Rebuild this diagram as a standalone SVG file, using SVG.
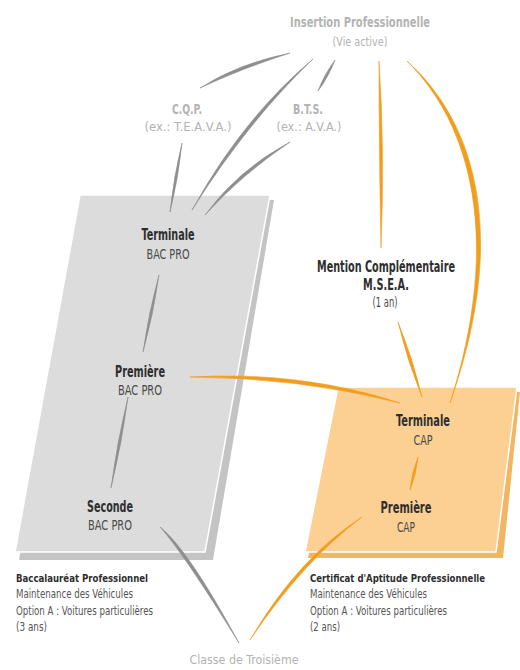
<svg xmlns="http://www.w3.org/2000/svg" width="520" height="670" viewBox="0 0 520 670">
<style>
text{font-family:"DejaVu Sans Condensed","Liberation Sans",sans-serif;}
.top{fill:#b3b3b3;font-size:14px;font-weight:bold;text-anchor:middle;}
.topn{fill:#b3b3b3;font-size:13px;text-anchor:middle;}
.h{fill:#2e2e2e;font-size:15px;font-weight:bold;text-anchor:middle;}
.s{fill:#4a4a4a;font-size:14px;text-anchor:middle;}
.bh{fill:#2e2e2e;font-size:11.2px;font-weight:bold;}
.bs{fill:#555;font-size:13px;}
.g{fill:#8e8e8e;stroke:#8e8e8e;stroke-width:0.6;stroke-linejoin:round;}
.o{fill:#f19d1e;stroke:#f19d1e;stroke-width:0.6;stroke-linejoin:round;}
</style>
<rect width="520" height="670" fill="#ffffff"/>

<g id="panel-bac">
<polygon points="83,200 274,200 213,560 19,560" fill="#c4c4c4"/>
<polygon points="80,195 270,195 205,552 15,552" fill="#dcdcdc" stroke="#ffffff" stroke-width="1.5"/>
</g>
<g id="panel-cap">
<polygon points="341,392 520,392 503,558 308,558" fill="#f2b561"/>
<polygon points="338,387 517,387 496,552 305,552" fill="#fbd092" stroke="#ffffff" stroke-width="1.5"/>
</g>

<g id="connectors">
<path class="g" d="M200,88 Q241.1,68.8 290,53 Q238.9,63.2 200,88Z"/>
<path class="g" d="M313,59 Q242.7,118.1 192,210 Q247.3,121.9 313,59Z"/>
<path class="g" d="M318,91 Q328.7,76.7 335,60 Q324.3,74.3 318,91Z"/>
<path class="g" d="M182,143 Q173.5,177.1 170,212 Q178.5,177.9 182,143Z"/>
<path class="g" d="M290,142 Q238,169.7 205,215 Q242,174.3 290,142Z"/>
<path class="g" d="M159,275 Q148.5,313 143,352 Q153.5,314 159,275Z"/>
<path class="g" d="M128,397 Q117,442 111,488 Q122,443 128,397Z"/>
<path class="g" d="M160,527 Q182.5,551.7 239,643 Q187.5,548.3 160,527Z"/>
<path class="o" d="M379,61 Q379,150 381,248 Q385,150 379,61Z"/>
<path class="o" d="M407,61 C472,125.5 502,240.5 450,403 C508,239.5 478,124.5 407,61Z"/>
<path class="o" d="M398,322 Q407.1,360.4 422,397 Q412.9,358.6 398,322Z"/>
<path class="o" d="M190,377 Q299.6,377.5 400,403 Q300.4,370.5 190,377Z"/>
<path class="o" d="M418,457 Q411.6,472.9 410,490 Q416.4,474.1 418,457Z"/>
<path class="o" d="M362,517 Q297.8,558 250,640 Q302.2,562 362,517Z"/>
</g>

<g id="insertion">
<text class="top" x="360" y="27" font-size="15" textLength="140" lengthAdjust="spacingAndGlyphs">Insertion Professionnelle</text>
<text class="topn" x="360" y="46" textLength="55" lengthAdjust="spacingAndGlyphs">(Vie active)</text>
</g>
<g id="cqp">
<text class="top" x="187" y="114" textLength="30" lengthAdjust="spacingAndGlyphs">C.Q.P.</text>
<text class="topn" x="188" y="131" textLength="87" lengthAdjust="spacingAndGlyphs">(ex.: T.E.A.V.A.)</text>
</g>
<g id="bts">
<text class="top" x="308" y="114" textLength="30" lengthAdjust="spacingAndGlyphs">B.T.S.</text>
<text class="topn" x="309" y="131" textLength="65" lengthAdjust="spacingAndGlyphs">(ex.: A.V.A.)</text>
</g>
<g id="terminale-bac">
<text class="h" x="168" y="240" textLength="53" lengthAdjust="spacingAndGlyphs">Terminale</text>
<text class="s" x="168" y="259" textLength="43" lengthAdjust="spacingAndGlyphs">BAC PRO</text>
</g>
<g id="premiere-bac">
<text class="h" x="140" y="377" textLength="50" lengthAdjust="spacingAndGlyphs">Première</text>
<text class="s" x="140" y="395" textLength="44" lengthAdjust="spacingAndGlyphs">BAC PRO</text>
</g>
<g id="seconde-bac">
<text class="h" x="110" y="512" textLength="46" lengthAdjust="spacingAndGlyphs">Seconde</text>
<text class="s" x="110" y="530" textLength="44" lengthAdjust="spacingAndGlyphs">BAC PRO</text>
</g>
<g id="mention">
<text class="h" x="386" y="272" textLength="138" lengthAdjust="spacingAndGlyphs">Mention Complémentaire</text>
<text class="h" x="386" y="290" textLength="46" lengthAdjust="spacingAndGlyphs">M.S.E.A.</text>
<text class="s" x="385" y="307" font-size="11" textLength="25" lengthAdjust="spacingAndGlyphs">(1 an)</text>
</g>
<g id="terminale-cap">
<text class="h" x="423" y="426" textLength="54" lengthAdjust="spacingAndGlyphs">Terminale</text>
<text class="s" x="423" y="445" textLength="19" lengthAdjust="spacingAndGlyphs">CAP</text>
</g>
<g id="premiere-cap">
<text class="h" x="406" y="513" textLength="51" lengthAdjust="spacingAndGlyphs">Première</text>
<text class="s" x="406" y="532" textLength="18" lengthAdjust="spacingAndGlyphs">CAP</text>
</g>
<g id="label-bac">
<text class="bh" x="16" y="582" textLength="132" lengthAdjust="spacingAndGlyphs">Baccalauréat Professionnel</text>
<text class="bs" x="16" y="598" textLength="117" lengthAdjust="spacingAndGlyphs">Maintenance des Véhicules</text>
<text class="bs" x="16" y="615" textLength="137" lengthAdjust="spacingAndGlyphs">Option A : Voitures particulières</text>
<text class="bs" x="16" y="631" textLength="31" lengthAdjust="spacingAndGlyphs">(3 ans)</text>
</g>
<g id="label-cap">
<text class="bh" x="310" y="582" textLength="175" lengthAdjust="spacingAndGlyphs">Certificat d'Aptitude Professionnelle</text>
<text class="bs" x="310" y="598" textLength="117" lengthAdjust="spacingAndGlyphs">Maintenance des Véhicules</text>
<text class="bs" x="310" y="615" textLength="137" lengthAdjust="spacingAndGlyphs">Option A : Voitures particulières</text>
<text class="bs" x="310" y="631" textLength="30" lengthAdjust="spacingAndGlyphs">(2 ans)</text>
</g>
<g id="troisieme">
<text class="topn" x="244" y="664" font-size="14" textLength="109" lengthAdjust="spacingAndGlyphs">Classe de Troisième</text>
</g>
</svg>
